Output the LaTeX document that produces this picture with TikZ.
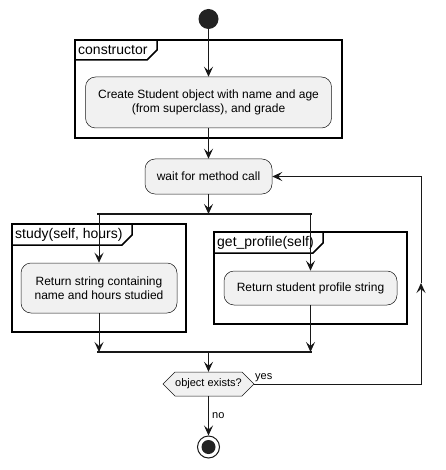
\documentclass[tikz,border=0pt]{standalone}
\usepackage{fontspec}
\setmainfont{Liberation Sans}
\usetikzlibrary{arrows.meta}
\definecolor{lc}{HTML}{181818}
\definecolor{bf}{HTML}{F1F1F1}
\definecolor{dot}{HTML}{222222}
\begin{document}
\begin{tikzpicture}[x=1pt,y=-1pt,
  act/.style={draw=lc, fill=bf, rounded corners=10pt, line width=0.5pt, font=\fontsize{12}{14.5}\selectfont, align=center, inner sep=0pt},
  flow/.style={draw=lc, line width=1pt, -{Stealth[length=10pt,width=9pt,inset=4pt]}},
  line/.style={draw=lc, line width=1pt},
  frame/.style={draw=black, line width=1.5pt},
  ftab/.style={font=\fontsize{14}{16}\selectfont, anchor=west, inner sep=0pt},
  bar/.style={draw=lc, line width=2pt},
  lbl/.style={font=\fontsize{11}{13}\selectfont, inner sep=0pt}]
\useasboundingbox (0,0) rectangle (445,470);
% frames
\draw[frame] (75,40) rectangle (342,138);
\draw[frame] (75,60) -- (147,60) -- (157,50) -- (157,40);
\node[ftab] (tcons) at (78,50) {constructor};
\draw[frame] (12,224) rectangle (186,332);
\draw[frame] (12,245) -- (122,245) -- (132,235) -- (132,224);
\node[ftab] (tstudy) at (15,234.5) {study(self, hours)};
\draw[frame] (214,232) rectangle (407,324);
\draw[frame] (214,253) -- (313,253) -- (323,243) -- (323,232);
\node[ftab] (tprof) at (217,242.5) {get\_profile(self)};
% nodes
\node[circle, fill=dot, minimum size=20pt, inner sep=0pt] (start) at (208.5,19) {};
\node[act, minimum width=246pt, minimum height=51pt] (create) at (208.5,102.5) {Create Student object with name and age\\(from superclass), and grade};
\node[act, minimum width=127pt, minimum height=35pt] (wait) at (208.5,176.5) {wait for method call};
\node[act, minimum width=156pt, minimum height=50pt] (study) at (99,288) {Return string containing\\name and hours studied};
\node[act, minimum width=173pt, minimum height=34pt] (prof) at (310.5,288) {Return student profile string};
\coordinate (fbL) at (97,214); \coordinate (fbR) at (312,214);
\coordinate (fC) at (208.5,214); \coordinate (fL) at (99,214); \coordinate (fR) at (310.5,214);
\coordinate (mbL) at (97,352); \coordinate (mbR) at (312,352);
\coordinate (mC) at (208.5,352); \coordinate (mL) at (99,352); \coordinate (mR) at (310.5,352);
\draw[draw=lc, fill=bf, line width=0.5pt] (163,384) -- (175,372) -- (242,372) -- (254,384) -- (242,396) -- (175,396) -- cycle;
\node[lbl, minimum width=79pt, minimum height=24pt] (hex) at (208.5,384) {object exists?};
\coordinate (hexR) at (254,384);
\coordinate (c1) at (421,384); \coordinate (c2) at (421,283); \coordinate (c3) at (421,176.5);
\node[circle, draw=lc, line width=1pt, fill=white, minimum size=22pt, inner sep=0pt] (end) at (208.5,447) {};
\node[circle, fill=dot, minimum size=14pt, inner sep=0pt] (endin) at (208.5,447) {};
% connectors
\draw[flow] (start) -- (create);
\draw[flow] (create) -- (wait);
\draw[flow] (wait) -- (fC);
\draw[bar] (fbL) -- (fbR);
\draw[flow] (fL) -- (study);
\draw[flow] (fR) -- (prof);
\draw[flow] (study) -- (mL);
\draw[flow] (prof) -- (mR);
\draw[bar] (mbL) -- (mbR);
\draw[flow] (mC) -- (hex.north);
\draw[flow] (hex.south) -- (end);
\draw[flow] (hexR) -- (c1) -- (c2);
\draw[flow] (c2) -- (c3) -- (wait.east);
\node[lbl, anchor=south west] (yes) at (255,382) {yes};
\node[lbl, anchor=west] (no) at (212,416) {no};
\end{tikzpicture}
\end{document}
